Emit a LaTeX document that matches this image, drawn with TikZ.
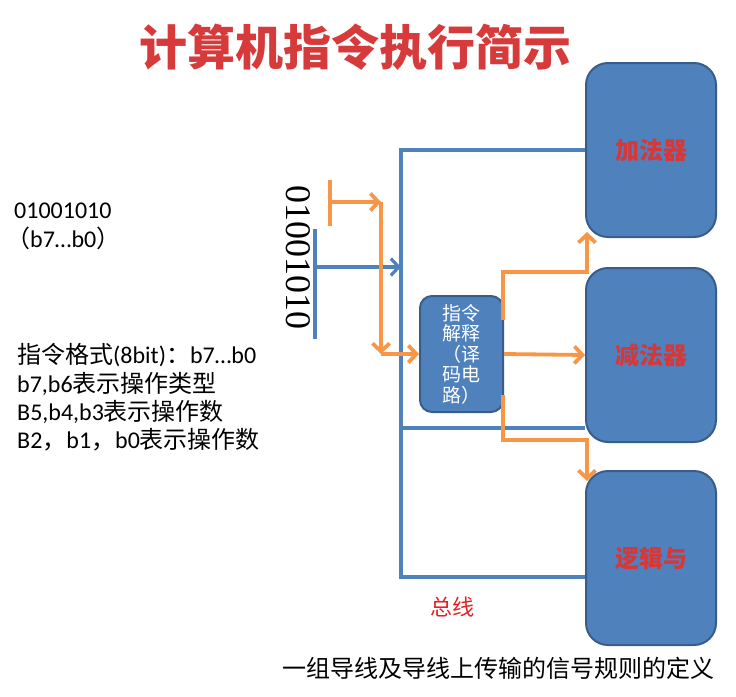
\documentclass[tikz,border=0pt]{standalone}
\usepackage{fontspec}
\setmainfont{Carlito}
\newfontfamily\cjk{Noto Sans CJK SC}
\newfontfamily\bitfont{Liberation Serif}
\usetikzlibrary{arrows.meta}
\definecolor{boxblue}{HTML}{4F81BD}
\definecolor{boxedge}{HTML}{385D8A}
\definecolor{sigorange}{HTML}{F79646}
\definecolor{titlered}{HTML}{D63A3A}
\definecolor{labelred}{HTML}{D93636}
\definecolor{busred}{HTML}{E02222}

\begin{document}
\begin{tikzpicture}[x=1pt,y=-1pt,
  >={Straight Barb[length=8pt,width=17pt]},
  unitbox/.style={draw=boxedge, line width=2pt, fill=boxblue, rounded corners=22pt,
    minimum width=130pt, minimum height=174pt, inner sep=0pt,
    text=labelred, font=\cjk\bfseries\fontsize{24}{24}\selectfont},
  decbox/.style={draw=boxedge, line width=2pt, fill=boxblue, rounded corners=12pt,
    minimum width=83pt, minimum height=116pt, inner sep=0pt, align=center,
    text=white, font=\cjk\fontsize{19}{20.5}\selectfont},
  bus/.style={draw=boxblue, line width=3.2pt},
  sig/.style={draw=sigorange, line width=3.8pt},
  note/.style={anchor=base west, inner sep=0pt, font=\fontsize{24}{24}\selectfont},
]
\useasboundingbox (0,0) rectangle (736,696);

% title
\node[text=titlered, font=\cjk\bfseries\fontsize{48}{48}\selectfont] (title) at (355,47) {计算机指令执行简示};

% execution units
\node[unitbox] (add)   at (651,150) {加法器};
\node[unitbox] (sub)   at (651,355) {减法器};
\node[unitbox] (logic) at (651,558) {逻辑与};

% decoder
\node[decbox] (dec) at (461.5,354) {指令\\解释\\（译\\码电\\路）};

% instruction word, written vertically
\node[rotate=-90, font=\bitfont\fontsize{36}{36}\selectfont, inner sep=0pt] (bits) at (298,257) {01001010};

% bus
\coordinate (busbot) at (401,577);
\coordinate (busmid) at (401,428);
\draw[bus] (add.west) -| (busbot) -- (busbot -| logic.west);
\draw[bus] (busmid) -- (busmid -| sub.west);

% instruction word lines
\coordinate (wtop) at (315,229);
\coordinate (wbot) at (315,339);
\coordinate (wout) at (315,267);
\draw[bus] (wtop) -- (wbot);
\draw[bus,->] (wout) -- (wout -| busbot);

% opcode bits to the decoder
\coordinate (otop) at (330,180);
\coordinate (obot) at (330,226);
\coordinate (otap) at (330,202);
\coordinate (ocorner) at (381,202);
\coordinate (odown) at (381,354);
\draw[sig] (otop) -- (obot);
\draw[sig,->] (otap) -- (ocorner);
\draw[sig,->] (ocorner) -- (odown);
\draw[sig,->] (odown) -- (dec.west);

% decoder select lines
\coordinate (dup) at (503,320);
\coordinate (dlo) at (503,395);
\coordinate (tadd) at (587,232);
\coordinate (tlogic) at (587,481);
\draw[sig,->] (dup) -- (503,272) -| (tadd);
\draw[sig,->] (dec.east) -- (sub.west);
\draw[sig,->] (dlo) -- (503,440) -| (tlogic);

% notes
\node[note] (bin) at (14,218) {01001010};
\node[note] (rng) at (6,247) {{\cjk （}b7…b0{\cjk ）}};
\node[note] (fmt1) at (17,363) {{\cjk 指令格式}(8bit){\cjk ：}b7…b0};
\node[note] (fmt2) at (17,392) {b7,b6{\cjk 表示操作类型}};
\node[note] (fmt3) at (17,420) {B5,b4,b3{\cjk 表示操作数}};
\node[note] (fmt4) at (17,448) {B2{\cjk ，}b1{\cjk ，}b0{\cjk 表示操作数}};

\node[text=busred, font=\cjk\fontsize{22}{22}\selectfont] (busname) at (452,607) {总线};
\node[font=\cjk\fontsize{24}{24}\selectfont] (busdef) at (498,668) {一组导线及导线上传输的信号规则的定义};
\end{tikzpicture}
\end{document}
